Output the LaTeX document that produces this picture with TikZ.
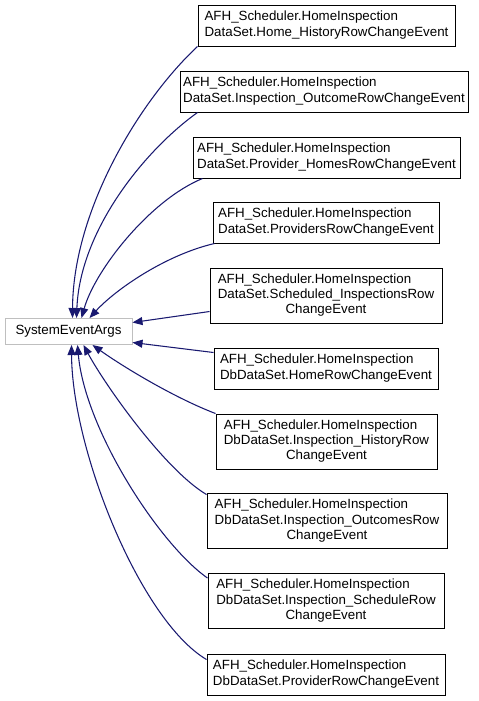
\documentclass[tikz,border=0pt]{standalone}
\usepackage{fontspec}
\setmainfont{Liberation Sans}
\usetikzlibrary{arrows.meta,calc}
\definecolor{edgeblue}{HTML}{191970}
\newcommand{\twolines}[2]{\begin{tabular}{@{}l@{}}#1\\#2\end{tabular}}
\newcommand{\threelines}[3]{\begin{tabular}{@{}l@{}}#1\\#2\\\multicolumn{1}{@{}c@{}}{#3}\end{tabular}}
\begin{document}
\begin{tikzpicture}[x=0.75pt,y=-0.75pt,
    box/.style={draw=black, line width=0.75pt, fill=white, inner sep=0pt,
        font=\fontsize{10}{11.3}\selectfont, minimum height=30.75pt},
    tallbox/.style={box, minimum height=41.25pt},
    inherit/.style={draw=edgeblue, line width=0.8pt, -{Triangle[length=7.5pt,width=6pt]}}]
    % page frame
    \useasboundingbox (0,0) rectangle (479,701);

    % base class
    \node[draw=gray!50, line width=0.75pt, minimum width=95.25pt, minimum height=19.5pt, inner sep=0pt,
        font=\fontsize{10}{12}\selectfont] (sea) at (68.5,331.5) {SystemEventArgs};

    % derived event classes
    \node[box, minimum width=192.75pt] (b1) at (326.5,25.5)
        {\twolines{AFH\_Scheduler.HomeInspection}{DataSet.Home\_HistoryRowChangeEvent}};
    \node[box, minimum width=216pt] (b2) at (324,91.5)
        {\twolines{AFH\_Scheduler.HomeInspection}{DataSet.Inspection\_OutcomeRowChangeEvent}};
    \node[box, minimum width=200.25pt] (b3) at (326.5,157.5)
        {\twolines{AFH\_Scheduler.HomeInspection}{DataSet.Provider\_HomesRowChangeEvent}};
    \node[box, minimum width=169.5pt] (b4) at (326,222.5)
        {\twolines{AFH\_Scheduler.HomeInspection}{DataSet.ProvidersRowChangeEvent}};
    \node[tallbox, minimum width=174pt] (b5) at (326,295.5)
        {\threelines{AFH\_Scheduler.HomeInspection}{DataSet.Scheduled\_InspectionsRow}{ChangeEvent}};
    \node[box, minimum width=168pt] (b6) at (326,368.5)
        {\twolines{AFH\_Scheduler.HomeInspection}{DbDataSet.HomeRowChangeEvent}};
    \node[tallbox, minimum width=165.75pt] (b7) at (326.5,441.5)
        {\threelines{AFH\_Scheduler.HomeInspection}{DbDataSet.Inspection\_HistoryRow}{ChangeEvent}};
    \node[tallbox, minimum width=180pt] (b8) at (327,521)
        {\threelines{AFH\_Scheduler.HomeInspection}{DbDataSet.Inspection\_OutcomesRow}{ChangeEvent}};
    \node[tallbox, minimum width=177pt] (b9) at (326,601)
        {\threelines{AFH\_Scheduler.HomeInspection}{DbDataSet.Inspection\_ScheduleRow}{ChangeEvent}};
    \node[box, minimum width=178.5pt] (b10) at (326,674.5)
        {\twolines{AFH\_Scheduler.HomeInspection}{DbDataSet.ProviderRowChangeEvent}};

    % inheritance arrows, upper group
    \draw[inherit] (b1.south west) .. controls (140,100) and (73,210) .. ($(sea.north west)+(68,0)$);
    \draw[inherit] ($(b2.south west)+(18,0)$) .. controls (145,150) and (80,230) .. ($(sea.north west)+(72,0)$);
    \draw[inherit] ($(b3.south west)+(10,0)$) .. controls (150,200) and (95,270) .. ($(sea.north west)+(77,0)$);
    \draw[inherit] ($(b4.south west)+(2,0)$) .. controls (165,255) and (115,290) .. ($(sea.north west)+(85,0)$);
    % straight ones
    \draw[inherit] ($(b5.west)+(0,16)$) -- ($(sea.east)+(0,-9)$);
    \draw[inherit] ($(b6.north west)+(0,5)$) -- ($(sea.east)+(0,11)$);
    % lower group
    \draw[inherit] (b7.north west) .. controls (175,398) and (125,368) .. ($(sea.south west)+(88,0)$);
    \draw[inherit] ($(b8.north west)+(0,1.5)$) .. controls (165,470) and (105,385) .. ($(sea.south west)+(79,0)$);
    \draw[inherit] ($(b9.north west)+(0,5)$) .. controls (160,545) and (85,430) .. ($(sea.south west)+(73,0)$);
    \draw[inherit] ($(b10.north west)+(0,6)$) .. controls (140,620) and (72,450) .. ($(sea.south west)+(67,0)$);
\end{tikzpicture}
\end{document}
